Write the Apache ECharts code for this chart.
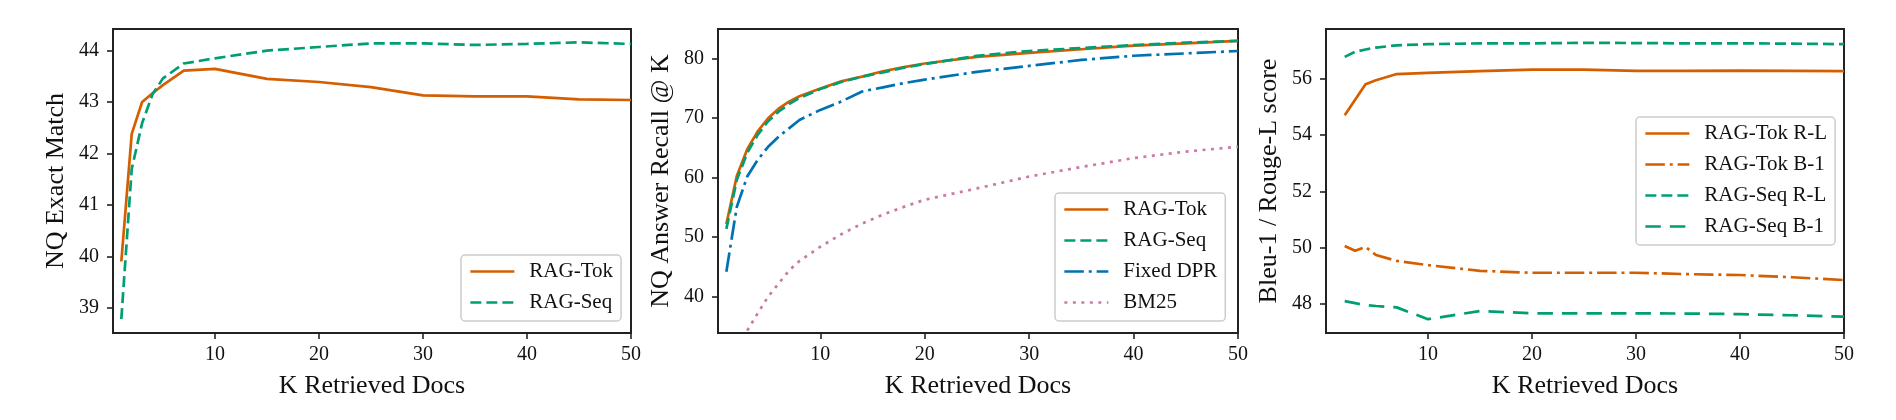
<!DOCTYPE html>
<html>
  <head>
    <meta charset="utf-8" />
    <title>RAG: K retrieved docs</title>
    <script src="https://cdn.jsdelivr.net/npm/echarts@6.0.0/dist/echarts.min.js"></script>
    <style>
      html, body { margin: 0; padding: 0; background: #fff; }
    </style>
  </head>
  <body>
    <div id="chart" style="width: 1896px; height: 420px"></div>
    <script>
      /* ======= data ======= */
      var kTicks = [10, 20, 30, 40, 50];

      // left panel: NQ exact match
      var kEM = [1, 2, 3, 4, 5, 7, 10, 15, 20, 25, 30, 35, 40, 45, 50];
      var emTok = [39.9, 42.38, 43.0, 43.17, 43.33, 43.61, 43.645, 43.45, 43.39, 43.29, 43.13, 43.11, 43.11, 43.05, 43.04];
      var emSeq = [38.78, 41.7, 42.59, 43.15, 43.46, 43.75, 43.85, 44.0, 44.07, 44.14, 44.14, 44.11, 44.13, 44.16, 44.13];
      var emTicks = [39, 40, 41, 42, 43, 44];

      // middle panel: answer recall @ K
      var kRec = [1, 2, 3, 4, 5, 6, 7, 8, 10, 12, 14, 16, 18, 20, 25, 30, 35, 40, 45, 50];
      var recTok = [52.2, 60.3, 64.8, 67.8, 70.0, 71.6, 72.8, 73.7, 75.0, 76.2, 77.0, 77.9, 78.6, 79.2, 80.3, 81.0, 81.6, 82.2, 82.6, 83.0];
      var recSeq = [51.4, 59.6, 64.2, 67.2, 69.5, 71.1, 72.4, 73.4, 74.9, 76.1, 77.0, 77.7, 78.5, 79.1, 80.5, 81.3, 81.8, 82.3, 82.7, 83.0];
      var recDpr = [44.2, 55.1, 60.2, 63.0, 65.2, 66.9, 68.3, 69.7, 71.4, 72.8, 74.5, 75.2, 75.9, 76.5, 77.8, 78.8, 79.8, 80.5, 80.9, 81.3];
      var recBm25 = [null, null, 34.3, 37.2, 40.0, 42.2, 44.4, 46.0, 48.4, 50.5, 52.3, 53.8, 55.1, 56.3, 58.2, 60.2, 61.8, 63.3, 64.4, 65.2];
      var recTicks = [40, 50, 60, 70, 80];

      // right panel: bleu-1 / rouge-l
      var kGen = [2, 3, 4, 5, 7, 10, 15, 20, 25, 30, 35, 40, 45, 50];
      var tokRL = [54.71, 55.26, 55.81, 55.95, 56.17, 56.21, 56.27, 56.33, 56.33, 56.28, 56.28, 56.29, 56.28, 56.27];
      var tokB1 = [50.06, 49.89, 50.03, 49.74, 49.53, 49.38, 49.18, 49.11, 49.11, 49.11, 49.06, 49.03, 48.95, 48.85];
      var seqRL = [56.78, 56.96, 57.04, 57.11, 57.19, 57.23, 57.26, 57.26, 57.28, 57.27, 57.26, 57.26, 57.25, 57.23];
      var seqB1 = [48.1, 48.03, 47.96, 47.93, 47.88, 47.46, 47.75, 47.67, 47.67, 47.67, 47.66, 47.64, 47.6, 47.55];
      var genTicks = [48, 50, 52, 54, 56];
      /* ======= */

      var FONT = "Liberation Serif";
      var TXT = "#111";
      var SPINE = "#222";
      var ORANGE = "#D55E00", GREEN = "#009E73", BLUE = "#0072B2", PINK = "#CC79A7";
      var LW = 2.7;
      var DASHED = [11, 5], DASHDOT = [19.5, 4.9, 3, 4.9], DOTTED = [3, 5.5], LONGDASH = [15.5, 9];

      function pairs(ks, vals) {
        return ks.map(function (k, i) { return [k, vals[i]]; });
      }

      function xAxisFor(idx) {
        return {
          type: "value", gridIndex: idx, min: 0.2, max: 50,
          name: "K Retrieved Docs", nameLocation: "middle", nameGap: 40,
          nameTextStyle: { fontFamily: FONT, fontSize: 26, color: TXT },
          axisLine: { show: false },
          axisTick: { show: true, length: 6, customValues: kTicks, lineStyle: { color: SPINE, width: 1.6 } },
          axisLabel: { fontFamily: FONT, fontSize: 20, color: TXT, margin: 12, customValues: kTicks },
          splitLine: { show: false },
        };
      }

      function yAxisFor(idx, name, lo, hi, ticks) {
        return {
          type: "value", gridIndex: idx, min: lo, max: hi,
          name: name, nameLocation: "middle", nameGap: 44,
          nameTextStyle: { fontFamily: FONT, fontSize: 26, color: TXT },
          axisLine: { show: false },
          axisTick: { show: true, length: 6, customValues: ticks, lineStyle: { color: SPINE, width: 1.6 } },
          axisLabel: { fontFamily: FONT, fontSize: 20, color: TXT, margin: 14, customValues: ticks },
          splitLine: { show: false },
        };
      }

      function line(name, idx, ks, vals, color, dash) {
        return {
          type: "line", name: name, xAxisIndex: idx, yAxisIndex: idx,
          data: pairs(ks, vals), symbol: "none", connectNulls: false,
          lineStyle: { color: color, width: LW, type: dash || "solid", cap: "butt" },
          itemStyle: { color: color },
          emphasis: { disabled: true },
        };
      }

      function legendFor(names, left, top) {
        return {
          orient: "vertical", left: left, top: top, data: names,
          itemWidth: 44, itemHeight: 14, itemGap: 10,
          padding: [6, 8, 8, 8],
          backgroundColor: "rgba(255,255,255,0.8)",
          borderColor: "#cccccc", borderWidth: 1.5, borderRadius: 4,
          // hide the marker dot, keep only the line sample
          itemStyle: { color: "rgba(0,0,0,0)", borderWidth: 0, opacity: 0 },
          lineStyle: { width: LW },
          textStyle: { fontFamily: FONT, fontSize: 21, color: TXT, lineHeight: 21, padding: [0, 0, 0, 10] },
          selectedMode: false,
        };
      }

      var gridBox = { show: true, borderColor: SPINE, borderWidth: 2, backgroundColor: "transparent", top: 29, height: 304 };

      var option = {
        animation: false,
        backgroundColor: "#fff",
        grid: [
          Object.assign({ left: 113, width: 518 }, gridBox),
          Object.assign({ left: 718, width: 520 }, gridBox),
          Object.assign({ left: 1326, width: 518 }, gridBox),
        ],
        xAxis: [xAxisFor(0), xAxisFor(1), xAxisFor(2)],
        yAxis: [
          yAxisFor(0, "NQ Exact Match", 38.51, 44.42, emTicks),
          yAxisFor(1, "NQ Answer Recall @ K", 33.9, 85.0, recTicks),
          yAxisFor(2, "Bleu-1 / Rouge-L score", 46.97, 57.77, genTicks),
        ],
        legend: [
          legendFor(["RAG-Tok", "RAG-Seq"], 461, 255),
          legendFor(["RAG-Tok", "RAG-Seq", "Fixed DPR", "BM25"], 1055, 193),
          legendFor(["RAG-Tok R-L", "RAG-Tok B-1", "RAG-Seq R-L", "RAG-Seq B-1"], 1636, 117),
        ],
        series: [
          line("RAG-Tok", 0, kEM, emTok, ORANGE),
          line("RAG-Seq", 0, kEM, emSeq, GREEN, DASHED),

          line("RAG-Tok", 1, kRec, recTok, ORANGE),
          line("RAG-Seq", 1, kRec, recSeq, GREEN, DASHED),
          line("Fixed DPR", 1, kRec, recDpr, BLUE, DASHDOT),
          line("BM25", 1, kRec, recBm25, PINK, DOTTED),

          line("RAG-Tok R-L", 2, kGen, tokRL, ORANGE),
          line("RAG-Tok B-1", 2, kGen, tokB1, ORANGE, DASHDOT),
          line("RAG-Seq R-L", 2, kGen, seqRL, GREEN, DASHED),
          line("RAG-Seq B-1", 2, kGen, seqB1, GREEN, LONGDASH),
        ],
      };

      var chart = echarts.init(document.getElementById("chart"));
      chart.setOption(option);
    </script>
  </body>
</html>
